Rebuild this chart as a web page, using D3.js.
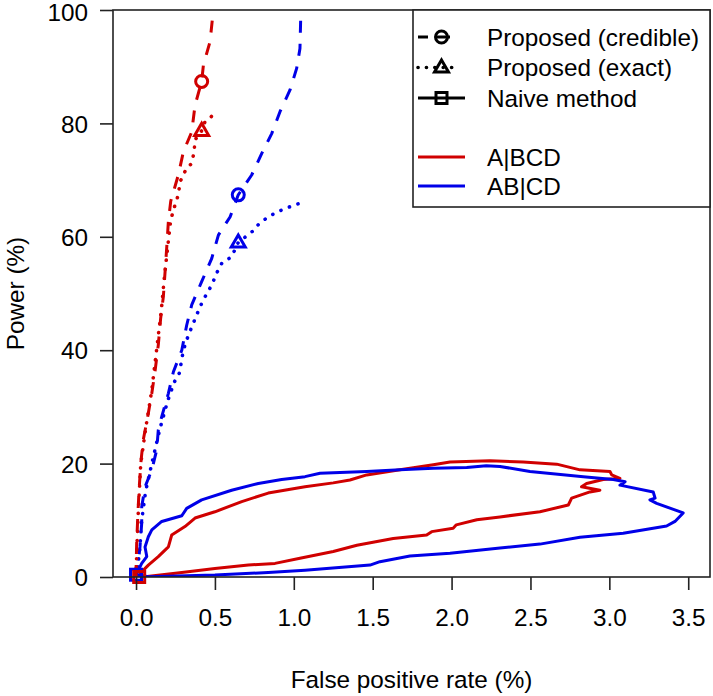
<!DOCTYPE html>
<html><head><meta charset="utf-8">
<script src="https://cdn.jsdelivr.net/npm/d3@7"></script>
<style>body{margin:0;background:#fff}svg{display:block}text{font-family:"Liberation Sans",Arial,sans-serif;fill:#000}</style>
</head><body><div id="chart"></div>
<script>
// ---- data: [false positive rate %, power %] ----
const redCredible = [[0,0],[0,1.2],[0.004,5.9],[0.011,10.6],[0.019,15.3],[0.032,20.6],[0.046,24.2],[0.078,28.9],[0.1,32.4],[0.12,36.2],[0.141,40.9],[0.156,45.6],[0.173,49.4],[0.184,53.8],[0.195,58.3],[0.205,62.7],[0.22,66.3],[0.268,70.9],[0.3,75],[0.353,78.5],[0.374,83.2],[0.416,87.4],[0.427,90.3],[0.469,94.4],[0.49,100]];
const redExact = [[0,0],[0.005,5],[0.015,12],[0.03,20],[0.06,26],[0.1,33],[0.13,40],[0.16,47],[0.18,53],[0.2,58],[0.22,63],[0.247,65.6],[0.268,67.4],[0.279,69.7],[0.31,71.5],[0.353,73],[0.368,75],[0.374,77.1],[0.416,78.7],[0.437,80.3],[0.49,81.5]];
const blueCredible = [[0,0],[0.011,1.8],[0.025,5.3],[0.036,9.5],[0.036,12.4],[0.057,15.9],[0.1,18.9],[0.131,22.4],[0.141,25.9],[0.163,28.3],[0.205,32.4],[0.237,36.2],[0.29,40],[0.321,44.4],[0.353,48],[0.416,52.1],[0.48,56.2],[0.522,60.3],[0.596,63.5],[0.648,67.4],[0.733,70.9],[0.797,74.7],[0.86,78.2],[0.913,82.1],[0.976,85.9],[1.018,89.7],[1.039,93.2],[1.045,100]];
const blueExact = [[0,0],[0.011,1.8],[0.025,5.3],[0.036,10],[0.06,15],[0.1,20],[0.15,26],[0.2,31],[0.241,34.3],[0.275,36],[0.3,40],[0.325,42.1],[0.353,44.1],[0.38,45.9],[0.406,47.7],[0.443,49.7],[0.48,51.5],[0.511,53.6],[0.543,55.3],[0.606,56.5],[0.648,59],[0.74,61],[0.786,62.5],[0.849,63.7],[0.913,64.6],[0.976,65.3],[1.045,66]];
const redNaive = [[0.02,0],[0.025,0.6],[0.078,2.1],[0.141,3.6],[0.205,5.3],[0.226,7.4],[0.31,8.9],[0.374,10.4],[0.5,11.5],[0.67,13.3],[0.838,14.8],[1.071,15.9],[1.25,16.6],[1.356,17.1],[1.462,18],[1.673,18.9],[1.884,19.8],[1.99,20.3],[2.243,20.5],[2.454,20.3],[2.666,19.9],[2.814,18.9],[3.004,18.6],[3.015,18],[3.067,17.4],[2.961,17.2],[2.856,16.5],[2.824,15.9],[2.94,15.3],[2.877,15],[2.761,13.9],[2.74,12.7],[2.56,11.5],[2.307,10.6],[2.16,10.1],[2.03,9.2],[2.01,8.6],[1.874,8],[1.842,7.4],[1.63,6.8],[1.4,5.6],[1.25,4.5],[1.039,3.3],[0.881,2.4],[0.712,2.1],[0.5,1.5],[0.29,0.8],[0.057,0.05],[0.02,0]];
const blueNaive = [[0,0.4],[0.004,0.6],[0.036,2.4],[0.068,3.6],[0.057,5.3],[0.078,7.1],[0.1,8.3],[0.163,9.8],[0.29,10.8],[0.321,12.1],[0.416,13.6],[0.606,15.3],[0.775,16.5],[0.923,17.2],[1.071,17.7],[1.166,18.3],[1.462,18.6],[1.673,18.9],[1.884,19.2],[2.096,19.3],[2.22,19.6],[2.307,19.5],[2.497,18.6],[2.835,17.7],[3.025,17.2],[3.1,16.8],[3.067,16.2],[3.278,15],[3.29,13.9],[3.257,13.6],[3.3,13],[3.468,11.3],[3.416,9.8],[3.363,9],[3.088,7.7],[2.814,7],[2.56,5.8],[2.307,5.1],[1.99,4.2],[1.736,3.7],[1.546,2.7],[1.483,2.1],[1.071,1.2],[0.838,0.8],[0.5,0.35],[0.08,0.05],[0,0.4]];
// highlighted operating points
const redMarkers = {credible:[0.416,87.4], exact:[0.416,78.7], naive:[0.02,0]};
const blueMarkers = {credible:[0.648,67.4], exact:[0.648,59], naive:[0,0.4]};
const xTicks = [0,0.5,1,1.5,2,2.5,3,3.5];
const yTicks = [0,20,40,60,80,100];
const legendMethods = ["Proposed (credible)","Proposed (exact)","Naive method"];
const legendGroups = ["A|BCD","AB|CD"];

const RED = "#d00000", BLUE = "#0000e8";
const W = 713, H = 696;
const L = 113, R = 710, T = 10, B = 577;
const FS = 24.3;

const svg = d3.select("#chart").append("svg").attr("width", W).attr("height", H);
const x = d3.scaleLinear().domain([-0.146, 3.638]).range([L, R]);
const y = d3.scaleLinear().domain([0, 100]).range([B, T]);

svg.append("defs").append("clipPath").attr("id","clip")
  .append("rect").attr("x",L).attr("y",T).attr("width",R-L).attr("height",B-T);

const line = d3.line().x(d => x(d[0])).y(d => y(d[1]));
const styles = {credible:"12,11", exact:"0.1,9", naive:null};
const g = svg.append("g").attr("clip-path","url(#clip)");

function drawSeries(data, color, type) {
  const p = g.append("path").datum(data).attr("d", line)
    .attr("fill","none").attr("stroke",color).attr("stroke-width",3)
    .attr("stroke-linejoin","round");
  if (styles[type]) p.attr("stroke-dasharray", styles[type]);
  if (type === "exact") p.attr("stroke-linecap","round").attr("stroke-width",3.6);
}
drawSeries(redNaive, RED, "naive");
drawSeries(blueNaive, BLUE, "naive");
drawSeries(blueExact, BLUE, "exact");
drawSeries(blueCredible, BLUE, "credible");
drawSeries(redExact, RED, "exact");
drawSeries(redCredible, RED, "credible");

function marker(sel, type, cx, cy, color, sw) {
  if (type === "credible") {
    sel.append("circle").attr("cx",cx).attr("cy",cy).attr("r",6)
      .attr("fill","none").attr("stroke",color).attr("stroke-width",sw);
  } else if (type === "exact") {
    const s = 14, h = s*Math.sqrt(3)/2;
    sel.append("path").attr("d", `M${cx},${cy-h*0.62}L${cx+s/2},${cy+h*0.38}L${cx-s/2},${cy+h*0.38}Z`)
      .attr("fill","none").attr("stroke",color).attr("stroke-width",sw).attr("stroke-linejoin","miter");
  } else {
    sel.append("rect").attr("x",cx-5.5).attr("y",cy-5.5).attr("width",11).attr("height",11)
      .attr("fill","none").attr("stroke",color).attr("stroke-width",sw);
  }
}
const mg = svg.append("g");
for (const [k,v] of Object.entries(blueMarkers)) marker(mg, k, x(v[0]), y(v[1]), BLUE, 3);
for (const [k,v] of Object.entries(redMarkers)) marker(mg, k, x(v[0]), y(v[1]), RED, 3);

// box
svg.append("rect").attr("x",L).attr("y",T).attr("width",R-L).attr("height",B-T)
  .attr("fill","none").attr("stroke","#222").attr("stroke-width",1.6);

// axes
const xa = svg.append("g").attr("transform",`translate(0,${B})`)
  .call(d3.axisBottom(x).tickValues(xTicks).tickFormat(d3.format(".1f")).tickSize(13).tickPadding(19));
const ya = svg.append("g").attr("transform",`translate(${L},0)`)
  .call(d3.axisLeft(y).tickValues(yTicks).tickSize(13).tickPadding(12));
[xa, ya].forEach(a => {
  a.select(".domain").remove();
  a.selectAll(".tick line").attr("stroke","#222").attr("stroke-width",1.6);
  a.selectAll(".tick text").attr("font-size",FS).attr("font-family",'"Liberation Sans",Arial,sans-serif').attr("fill","#000");
});
ya.selectAll(".tick text").attr("dy","0.36em");
ya.selectAll(".tick").filter(d => d === 100).select("text").attr("dy","0.42em");

svg.append("text").attr("x",(L+R)/2).attr("y",688).attr("text-anchor","middle")
  .attr("font-size",FS).text("False positive rate (%)");
svg.append("text").attr("transform",`translate(24,${(T+B)/2}) rotate(-90)`).attr("text-anchor","middle")
  .attr("font-size",FS).text("Power (%)");

// legend
const LX = 413, LB = 207;
svg.append("rect").attr("x",LX).attr("y",T).attr("width",R-LX).attr("height",LB-T)
  .attr("fill","#fff").attr("stroke","#222").attr("stroke-width",1.6);
const rowY = [37, 67.5, 98, 157, 186];
const types = ["credible","exact","naive"];
legendMethods.forEach((t,i) => {
  const yy = rowY[i];
  const p = svg.append("line").attr("x1",418).attr("x2", types[i]==="exact" ? 452 : 465).attr("y1",yy).attr("y2",yy)
    .attr("stroke","#000").attr("stroke-width",3);
  if (types[i]==="credible") p.attr("stroke-dasharray","10,9,13,25");
  if (types[i]==="exact") p.attr("stroke-dasharray","0.1,8.3").attr("stroke-linecap","round").attr("stroke-width",3.6);
  marker(svg.append("g"), types[i], 441.5, yy, "#000", 3);
  svg.append("text").attr("x",487).attr("y",yy).attr("dy","0.36em").attr("font-size",FS).text(t);
});
legendGroups.forEach((t,i) => {
  const yy = rowY[3+i];
  svg.append("line").attr("x1",418).attr("x2",465).attr("y1",yy).attr("y2",yy)
    .attr("stroke", i===0?RED:BLUE).attr("stroke-width",3);
  svg.append("text").attr("x",487).attr("y",yy).attr("dy","0.36em").attr("font-size",FS).text(t);
});
</script></body></html>
